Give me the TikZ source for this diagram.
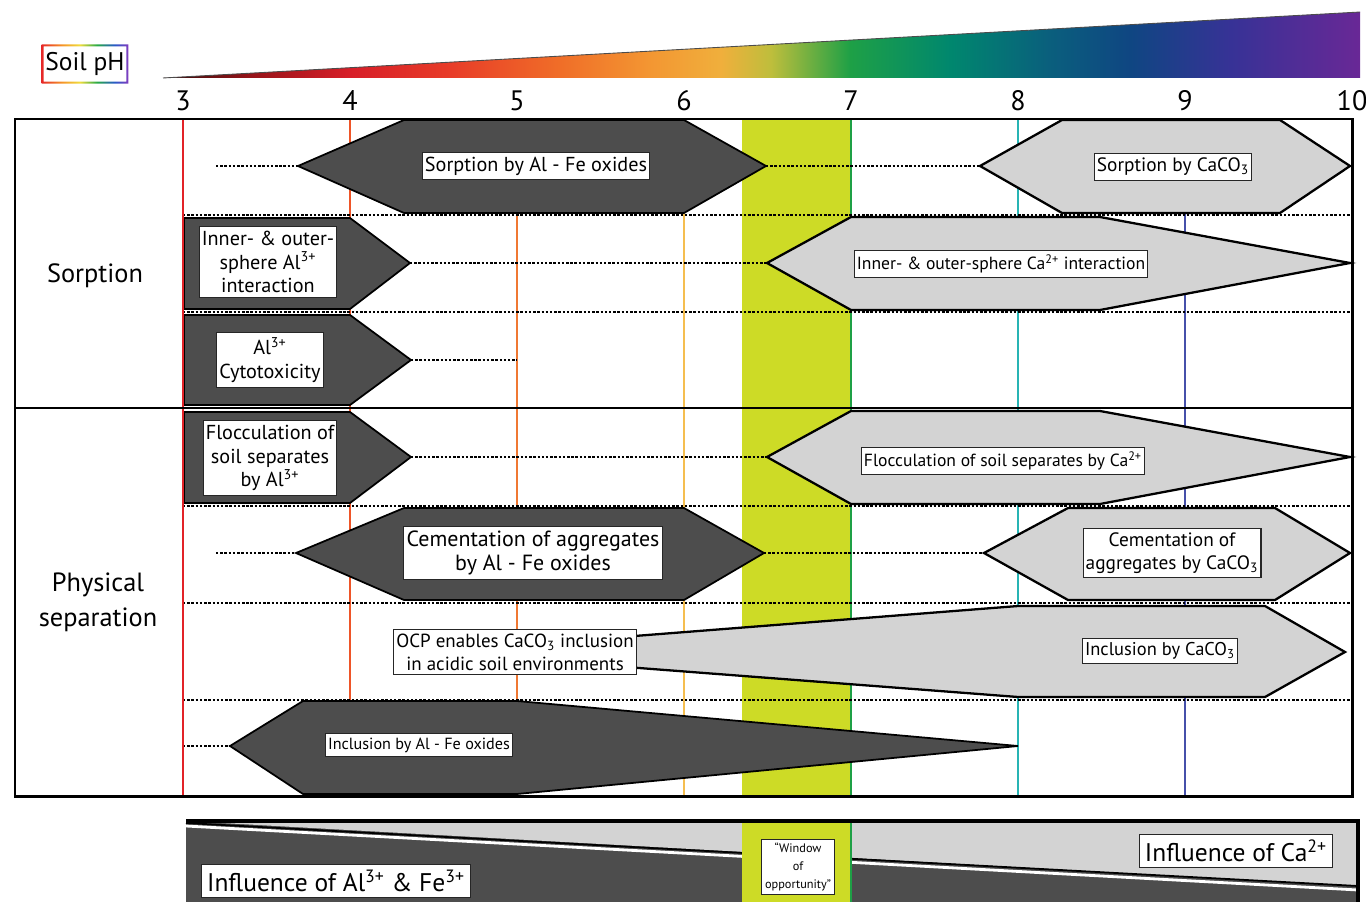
\documentclass[tikz,border=0pt]{standalone}
\usepackage{fontspec}
\setmainfont{PT Sans}
\usetikzlibrary{calc, positioning}

\definecolor{darkfill}{RGB}{77,77,77}
\definecolor{lightfill}{RGB}{211,211,211}
\definecolor{window}{RGB}{205,219,38}
\definecolor{ph3}{RGB}{226,35,40}
\definecolor{ph4}{RGB}{238,85,40}
\definecolor{ph5}{RGB}{240,120,50}
\definecolor{ph6}{RGB}{245,190,80}
\definecolor{ph7}{RGB}{30,160,70}
\definecolor{ph8}{RGB}{40,180,180}
\definecolor{ph9}{RGB}{70,80,170}
% colours of the pH wedge
\definecolor{gr0}{RGB}{50,10,10}
\definecolor{gr1}{RGB}{150,20,25}
\definecolor{gr2}{RGB}{215,30,40}
\definecolor{gr3}{RGB}{232,60,40}
\definecolor{gr4}{RGB}{240,110,40}
\definecolor{gr5}{RGB}{243,150,50}
\definecolor{gr6}{RGB}{240,175,60}
\definecolor{gr7}{RGB}{190,190,60}
\definecolor{gr8}{RGB}{30,160,70}
\definecolor{gr9}{RGB}{0,135,110}
\definecolor{gr10}{RGB}{10,95,125}
\definecolor{gr11}{RGB}{15,70,130}
\definecolor{gr12}{RGB}{55,50,150}
\definecolor{gr13}{RGB}{105,40,150}
\definecolor{rb1}{RGB}{230,40,40}
\definecolor{rb2}{RGB}{245,150,40}
\definecolor{rb3}{RGB}{240,220,60}
\definecolor{rb4}{RGB}{40,170,70}
\definecolor{rb5}{RGB}{40,90,200}
\definecolor{rb6}{RGB}{130,60,190}

\pgfdeclarehorizontalshading{phscale}{100bp}{color(0bp)=(gr0); color(25bp)=(gr0);
  color(28.6bp)=(gr1); color(32.8bp)=(gr2); color(37bp)=(gr3); color(41.6bp)=(gr4);
  color(45.3bp)=(gr5); color(48.3bp)=(gr6); color(50.4bp)=(gr7); color(53.7bp)=(gr8);
  color(57.9bp)=(gr9); color(62bp)=(gr10); color(65.4bp)=(gr11); color(69.6bp)=(gr12);
  color(75bp)=(gr13); color(100bp)=(gr13)}
\pgfdeclarehorizontalshading{rainbow}{100bp}{color(0bp)=(rb1); color(25bp)=(rb1);
  color(37bp)=(rb2); color(47bp)=(rb3); color(57bp)=(rb4); color(67bp)=(rb5);
  color(75bp)=(rb6); color(100bp)=(rb6)}

\newcommand{\caco}{CaCO\textsubscript{3}}
\newcommand{\alion}{Al\textsuperscript{3+}}
\newcommand{\feion}{Fe\textsuperscript{3+}}
\newcommand{\caion}{Ca\textsuperscript{2+}}

\tikzset{
  darkbar/.style ={fill=darkfill, draw=black, line width=1pt, line join=miter},
  lightbar/.style={fill=lightfill, draw=black, line width=1.3pt, line join=miter},
  tag/.style     ={draw=black!85, fill=white, line width=0.6pt, inner xsep=1.5pt, inner ysep=2.5pt,
                   align=center, font=\fontsize{11.5}{13.5}\selectfont},
  tagsm/.style   ={tag, font=\fontsize{10}{12}\selectfont},
  tagxs/.style   ={tag, font=\fontsize{9.2}{11}\selectfont},
  tagbig/.style  ={tag, inner sep=3pt, font=\fontsize{14.5}{17}\selectfont},
  sep/.style     ={dash pattern=on 1.4pt off 1pt, line width=0.9pt},
  lead/.style    ={dash pattern=on 1.4pt off 1pt, line width=0.9pt},
  phline/.style  ={line width=0.9pt},
  frame/.style   ={line width=1.7pt},
  rowlbl/.style  ={align=center, font=\fontsize{15}{20}\selectfont},
  tick/.style    ={font=\fontsize{16}{18}\selectfont},
}

\begin{document}
\begin{tikzpicture}[x=0.2mm, y=-0.2mm]
  \useasboundingbox (0,0) rectangle (1366,902);

  % pH scale
  \node[font=\fontsize{14.5}{16}\selectfont, inner xsep=2pt, minimum height=22pt] (soilph) at (85,64) {Soil pH};
  \shade[shading=rainbow, even odd rule]
    (soilph.south west) rectangle (soilph.north east)
    ([shift={(2,-2)}]soilph.south west) rectangle ([shift={(-2,2)}]soilph.north east);
  \shade[shading=phscale] (163,78) -- (1360,12) -- (1360,78) -- cycle;
  \draw[line width=0.5pt, black!70] (163,78) -- (1360,12);
  \foreach \p in {3,...,10}
    \node[tick] (t\p) at ({183+(\p-3)*167},101) {\p};

  % window of opportunity + pH lines
  \fill[window] (742,119) rectangle (851,796);
  \foreach \p in {4,...,9}
    \draw[phline, color=ph\p] ({183+(\p-3)*167},119) -- ({183+(\p-3)*167},796);
  \foreach \y in {215,312,506,603,700}
    \draw[sep] (183,\y) -- (1352,\y);

  % SORPTION
  \draw[darkbar] (298,166) coordinate (oxL) -- (404,120) -- (684,120) -- (766,166) coordinate (oxR)
    -- (684,213) -- (404,213) -- cycle;
  \node[tag] (sorpox) at (536,166) {Sorption by Al - Fe oxides};
  \draw[lightbar] (980,166) coordinate (caL) -- (1062,120) -- (1280,120) -- (1350,166)
    -- (1280,213) -- (1062,213) -- cycle;
  \node[tag, font=\fontsize{11}{13}\selectfont] (sorpca) at (1173,167) {Sorption by \caco};
  \coordinate (r1) at (216,166);
  \draw[lead] (r1) -- (oxL);
  \draw[lead] (oxR) -- (caL);

  \draw[darkbar] (184,218) -- (350,218) -- (410,263) coordinate (alR) -- (350,309) -- (184,309) -- cycle;
  \node[tag] (alsph) at (268,262) {Inner- \& outer-\\sphere \alion\\interaction};
  \draw[lightbar] (767,263) coordinate (caspL) -- (851,217) -- (1100,217) -- (1350,263)
    -- (1100,310) -- (851,310) -- cycle;
  \node[tagsm] (casph) at (1001,264) {Inner- \& outer-sphere \caion{} interaction};
  \draw[lead] (alR) -- (caspL);

  \draw[darkbar] (184,315) -- (350,315) -- (411,360) coordinate (cytR) -- (350,405) -- (184,405) -- cycle;
  \node[tag] (cyto) at (270,360) {\alion\\Cytotoxicity};
  \coordinate (r3) at (517,360);
  \draw[lead] (cytR) -- (r3);

  % PHYSICAL SEPARATION
  \draw[darkbar] (184,412) -- (350,412) -- (411,457) coordinate (flR) -- (350,503) -- (184,503) -- cycle;
  \node[tag] (flocal) at (270,458) {Flocculation of\\soil separates\\by \alion};
  \draw[lightbar] (767,457) coordinate (flcaL) -- (851,411) -- (1100,411) -- (1350,457)
    -- (1100,504) -- (851,504) -- cycle;
  \node[tagsm] (flocca) at (1003,461) {Flocculation of soil separates by \caion};
  \draw[lead] (flR) -- (flcaL);

  \draw[darkbar] (296,553) coordinate (cemL) -- (404,508) -- (684,508) -- (764,553) coordinate (cemR)
    -- (684,600) -- (404,600) -- cycle;
  \node[tag, font=\fontsize{12.5}{14}\selectfont] (cemox) at (533,553) {Cementation of aggregates\\by Al - Fe oxides};
  \draw[lightbar] (984,553) coordinate (cemcaL) -- (1068,508) -- (1275,508) -- (1350,553)
    -- (1275,600) -- (1068,600) -- cycle;
  \node[tag, font=\fontsize{11}{13}\selectfont] (cemca) at (1172,553) {Cementation of\\aggregates by \caco};
  \coordinate (r5) at (216,553);
  \draw[lead] (r5) -- (cemL);
  \draw[lead] (cemR) -- (cemcaL);

  \draw[lightbar] (430,652) -- (1018,606) -- (1265,606) -- (1345,652) -- (1265,697) -- (1018,697) -- cycle;
  \node[tag, font=\fontsize{10.8}{13}\selectfont] (ocp) at (515,652) {OCP enables \caco{} inclusion\\in acidic soil environments};
  \node[tagsm, font=\fontsize{10.5}{12}\selectfont] (inclca) at (1160,651) {Inclusion by \caco};

  \draw[darkbar] (230,746) coordinate (inL) -- (303,701) -- (517,701) -- (1018,746)
    -- (517,794) -- (303,794) -- cycle;
  \node[tagxs] (inclox) at (419,745) {Inclusion by Al - Fe oxides};
  \coordinate (r7) at (183,746);
  \draw[lead] (r7) -- (inL);

  % frame
  \draw[phline, color=ph3] (183,119) -- (183,796);
  \draw[frame] (15,119) rectangle (1352,796);
  \draw[frame] (15,408) -- (1352,408);
  \node[rowlbl] (sorp) at (95,276) {Sorption};
  \node[rowlbl] (phys) at (98,602) {Physical\\separation};

  % influence panel
  \fill[darkfill] (186,821) rectangle (1358,902);
  \fill[lightfill] (186,821) -- (1358,821) -- (1358,886) -- cycle;
  \draw[white, line width=1.6pt] (186,826) -- (1358,890);
  \draw[black, line width=1pt] (186,823) -- (1358,886);
  \fill[window] (742,821) rectangle (851,902);
  \draw[phline, color=ph7] (851,821) -- (851,902);
  \draw[line width=2pt] (186,821) -- (1358,821) -- (1358,902);
  \node[draw=black!85, fill=white, line width=0.6pt, inner sep=2pt, align=center,
        font=\fontsize{7}{10}\selectfont] (window) at (798,867) {``Window\\of\\opportunity''};
  \node[tagbig] (alfe) at (336,881) {Influence of \alion{} \& \feion};
  \node[tagbig] (cainf) at (1236,851) {Influence of \caion};
\end{tikzpicture}
\end{document}
